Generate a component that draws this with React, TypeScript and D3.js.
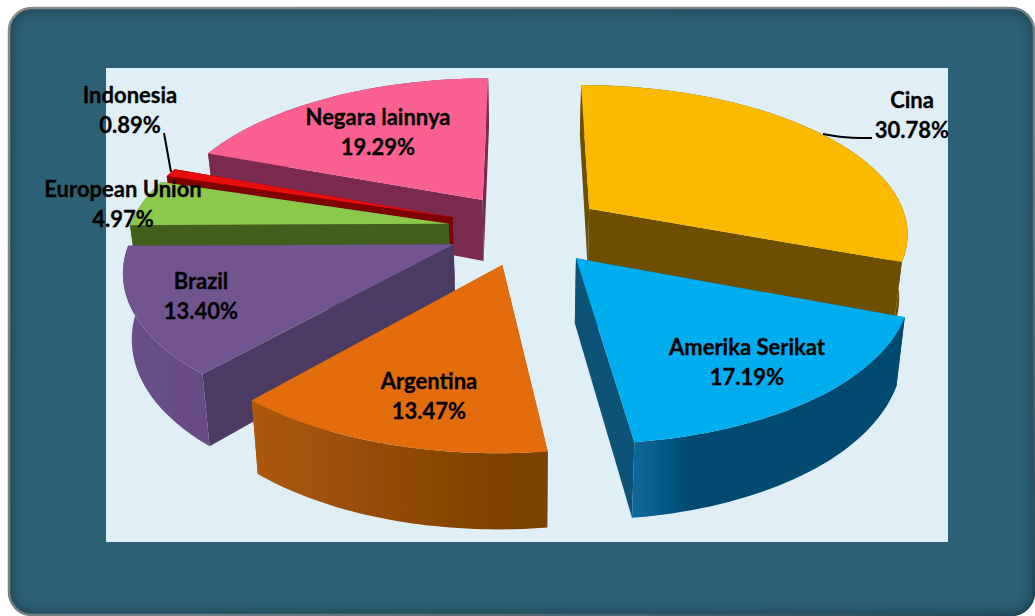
// App.tsx - exploded 3D pie drawn from d3.pie angles
import React from 'react';
import * as d3 from 'd3';

const names = ['Cina', 'Amerika Serikat', 'Argentina', 'Brazil', 'European Union', 'Indonesia', 'Negara lainnya'];
const shares = [30.78, 17.19, 13.47, 13.4, 4.97, 0.89, 19.29];
const topColors = ['#fbb900', '#00aeef', '#e36c09', '#72558f', '#8cc84b', '#e80808', '#fb6092'];
const wallColors = ['#6e5000', '#0a5278', '#b85c08', '#4c3a63', '#41601f', '#7f0000', '#7a2c50'];
const rimFrom = ['#6e5000', '#0b6a9c', '#ad5808', '#6a4f88', '#41601f', '#8f0000', '#7a2c50'];
const rimTo = ['#6e5000', '#004a70', '#7b3f05', '#664b83', '#41601f', '#7f0000', '#7a2c50'];
const rimStop = [1, 0.22, 0.9, 1, 1, 1, 1];

// back slices first so the front ones paint over them
const paintOrder = [6, 5, 4, 3, 2, 0, 1];

const labelAnchors: Record<string, [number, number]> = {
  Cina: [912, 100],
  'Amerika Serikat': [747, 347],
  Argentina: [429, 381],
  Brazil: [201, 281],
  'European Union': [123, 189],
  Indonesia: [130, 95],
  'Negara lainnya': [378, 117],
};

const W = 1035;
const H = 616;
const CX = 526;
const CY = 229;
const RADIUS = 320;
const DEPTH = 148; // vertical squash of the disc
const PERSPECTIVE = 0.15;
const THICK = 63;
const EXPLODE = 0.245;

const project = (x: number, z: number, low: boolean): [number, number] => {
  const s = 1 / (1 - PERSPECTIVE * z);
  const px = CX + x * RADIUS * s;
  const py = CY + z * DEPTH * s;
  if (!low) return [px, py];
  return [CX + (px - CX) * 0.978, py + THICK * (1 + 0.17 * z)];
};

const line = d3.line<[number, number]>().x(d => d[0]).y(d => d[1]);
const curve = d3.line<[number, number]>().x(d => d[0]).y(d => d[1]).curve(d3.curveBasis);

const arcs = d3.pie<number>().sort(null).value(d => d)(shares);

const slices = arcs.map((a, i) => {
  const mid = (a.startAngle + a.endAngle) / 2;
  const ox = Math.sin(mid) * EXPLODE;
  const oz = -Math.cos(mid) * EXPLODE;
  const rim = (low: boolean) =>
    d3.range(0, 41).map(k => {
      const t = a.startAngle + ((a.endAngle - a.startAngle) * k) / 40;
      return project(ox + Math.sin(t), oz - Math.cos(t), low);
    });
  const rimTop = rim(false);
  const rimLow = rim(true);
  const apexTop = project(ox, oz, false);
  const apexLow = project(ox, oz, true);
  return {
    i,
    top: line([apexTop, ...rimTop])! + 'Z',
    startWall: line([apexTop, rimTop[0], rimLow[0], apexLow])! + 'Z',
    endWall: line([apexTop, rimTop[40], rimLow[40], apexLow])! + 'Z',
    rimWall: line([...rimTop, ...rimLow.slice().reverse()])! + 'Z',
  };
});

const App = () => (
  <svg width={W} height={H} style={{ position: 'absolute', left: 0, top: 0, display: 'block' }}>
    <defs>
      <clipPath id="panelClip">
        <rect x={9} y={8} width={1025} height={607} rx={23} />
      </clipPath>
      <filter id="glow" x="-5%" y="-5%" width="110%" height="110%">
        <feGaussianBlur stdDeviation="5" />
      </filter>
      <filter id="soft" x="-5%" y="-5%" width="110%" height="110%">
        <feGaussianBlur stdDeviation="0.6" />
      </filter>
      <linearGradient id="edge" x1="0" y1="0" x2="1" y2="1">
        <stop offset="0" stopColor="#8a8a8a" />
        <stop offset="0.6" stopColor="#6f7f86" />
        <stop offset="1" stopColor="#1f4655" />
      </linearGradient>
      {names.map((n, i) => (
        <linearGradient key={n} id={`rim${i}`} x1="0" y1="0" x2="1" y2="0">
          <stop offset="0" stopColor={rimFrom[i]} />
          <stop offset={rimStop[i]} stopColor={rimTo[i]} />
        </linearGradient>
      ))}
    </defs>

    <rect x={9} y={8} width={1025} height={607} rx={23} fill="#2c6074" />
    <g clipPath="url(#panelClip)">
      <rect x={9} y={8} width={1025} height={607} rx={23} fill="none" stroke="#12303c" strokeWidth={7} opacity={0.65} filter="url(#glow)" />
    </g>
    <rect x={9} y={8} width={1025} height={607} rx={23} fill="none" stroke="url(#edge)" strokeWidth={2.5} />
    <rect x={106} y={68} width={842} height={474} fill="#e0eff6" />

    <g filter="url(#soft)">
      {paintOrder.map(idx => {
        const s = slices[idx];
        return (
          <g key={names[idx]}>
            <path d={s.startWall} fill={wallColors[idx]} />
            <path d={s.endWall} fill={wallColors[idx]} />
            <path d={s.rimWall} fill={`url(#rim${idx})`} />
            <path d={s.top} fill={topColors[idx]} />
          </g>
        );
      })}
    </g>

    <path d={curve([[823, 134], [848, 138], [860, 138], [872, 138]])!} fill="none" stroke="#000" strokeWidth={2} />
    <line x1={164} y1={133} x2={171} y2={172} stroke="#000" strokeWidth={2} />

    <g fontFamily="Lato, sans-serif" fontWeight={700} fontSize={22} textAnchor="middle" fill="#000" stroke="#000" strokeWidth={0.3}>
      {names.map((n, i) => (
        <g key={n}>
          <text x={labelAnchors[n][0]} y={labelAnchors[n][1] + 8}>{n}</text>
          <text x={labelAnchors[n][0]} y={labelAnchors[n][1] + 38}>{shares[i].toFixed(2)}%</text>
        </g>
      ))}
    </g>
  </svg>
);

export default App;
